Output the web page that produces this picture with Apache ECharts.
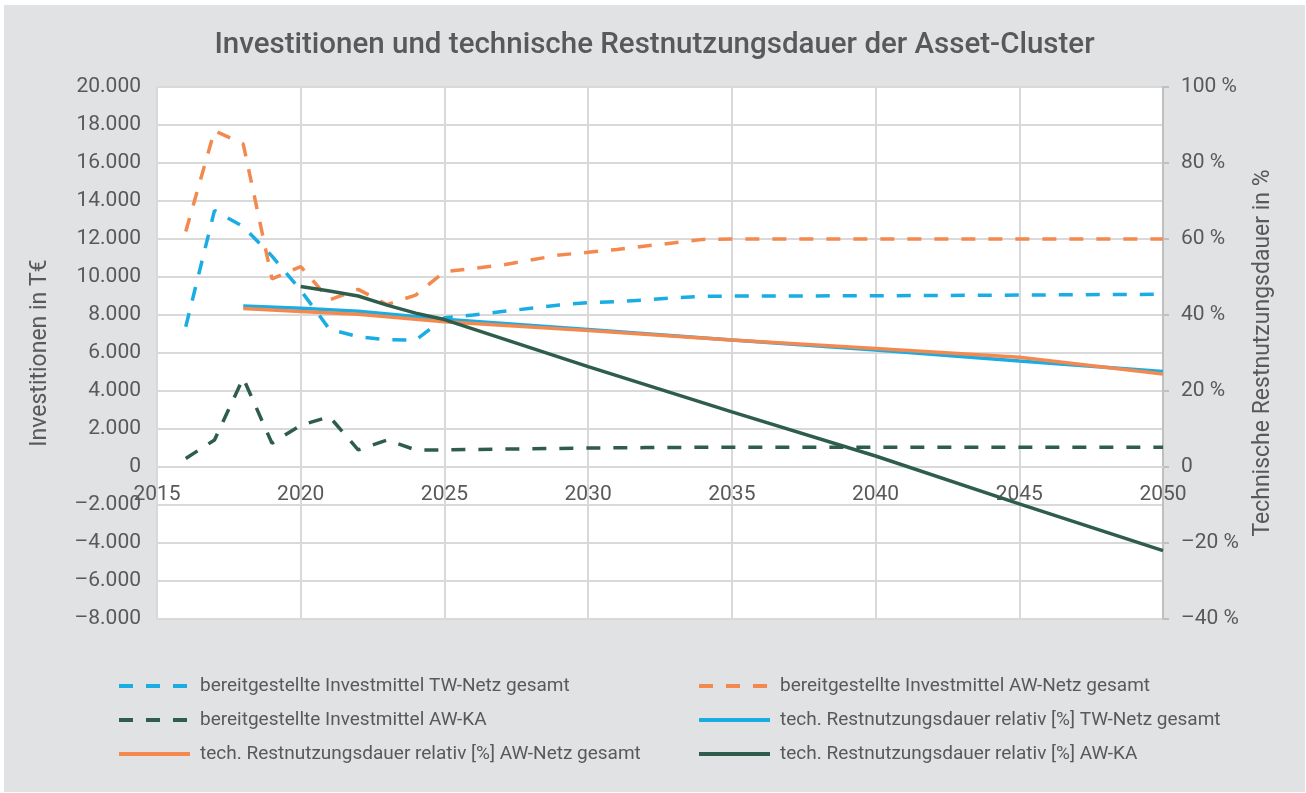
<!DOCTYPE html>
<html>
<head>
<meta charset="utf-8">
<script src="https://cdn.jsdelivr.net/npm/echarts@6/dist/echarts.min.js"></script>
<style>
  html, body { margin: 0; padding: 0; background: #fff; }
  #chart { position: absolute; left: 4px; top: 5px; width: 1301px; height: 787px; background: #e1e2e4; }
</style>
</head>
<body>
<div id="chart"></div>
<script>
// Jahre der Investitionsreihen (ab 2035 nur noch konstant)
const invYears = [2016, 2017, 2018, 2019, 2020, 2021, 2022, 2023, 2024, 2025, 2026, 2027,
  2028, 2029, 2030, 2031, 2032, 2033, 2034, 2035, 2040, 2045, 2050]
// bereitgestellte Investmittel in T€
const invTwNetz = [7380, 13500, 12650, 11100, 9300, 7250, 6860, 6700, 6680, 7850, 8000, 8180,
  8350, 8530, 8650, 8700, 8790, 8910, 8980, 9000, 9010, 9050, 9090]
const invAwNetz = [12400, 17700, 17000, 9900, 10550, 8800, 9350, 8550, 9050, 10280, 10450, 10630,
  10890, 11160, 11300, 11450, 11630, 11800, 11980, 12000, 12000, 12000, 12000]
const invAwKa = [450, 1420, 4680, 1250, 2200, 2650, 900, 1420, 900, 900, 920, 940,
  960, 980, 1000, 1010, 1020, 1030, 1040, 1040, 1040, 1040, 1040]

// tech. Restnutzungsdauer relativ in %
const rndYears = [2018, 2020, 2022, 2025, 2030, 2035, 2040, 2045, 2050]
const rndTwNetz = [42.4, 41.8, 41.0, 38.9, 36.2, 33.4, 30.8, 27.9, 25.1]
const rndAwNetz = [41.7, 40.9, 40.2, 38.2, 35.9, 33.4, 31.2, 28.9, 24.5]
const rndKaYears = [2020, 2021, 2022, 2023, 2024, 2025, 2030, 2035, 2040, 2045, 2050]
const rndAwKa = [47.5, 46.3, 45.0, 42.6, 40.5, 38.8, 26.4, 14.5, 2.9, -9.7, -22.0]

const names = [
  'bereitgestellte Investmittel TW-Netz gesamt',
  'bereitgestellte Investmittel AW-Netz gesamt',
  'bereitgestellte Investmittel AW-KA',
  'tech. Restnutzungsdauer relativ [%] TW-Netz gesamt',
  'tech. Restnutzungsdauer relativ [%] AW-Netz gesamt',
  'tech. Restnutzungsdauer relativ [%] AW-KA'
]

const BLUE = '#1aade4'
const ORANGE = '#f4894f'
const GREEN = '#2f5d4c'
const TEXT = '#595959'
const GRID = '#d9d9d9'
const FONT = 'Roboto'

const pairs = (xs, ys) => xs.map((x, i) => [x, ys[i]])

const fmtInv = (v) => {
  if (v === 0) return '0'
  const s = Math.abs(v).toString().replace(/\B(?=(\d{3})+(?!\d))/g, '.')
  return (v < 0 ? '\u2013' : '') + s
}
const fmtPct = (v) => (v === 0 ? '0' : (v < 0 ? '\u2013' : '') + Math.abs(v) + ' %')

const lineSeries = (name, data, color, dashed, yIndex) => ({
  name,
  type: 'line',
  yAxisIndex: yIndex,
  data,
  symbol: 'none',
  color,
  lineStyle: {
    color,
    width: 3.5,
    type: dashed ? [14, 13] : 'solid'
  }
})

const chart = echarts.init(document.getElementById('chart'))

// zwei Legendenspalten
const legendBase = {
  orient: 'vertical',
  top: 666,
  itemWidth: 71,
  itemHeight: 14,
  itemGap: 14,
  itemStyle: { opacity: 0 },
  lineStyle: { width: 4 },
  textStyle: { color: TEXT, fontSize: 19, fontFamily: FONT, lineHeight: 20, padding: [0, 0, 0, 5] }
}

chart.setOption({
  animation: false,
  textStyle: { fontFamily: FONT },
  title: {
    text: 'Investitionen und technische Restnutzungsdauer der Asset-Cluster',
    left: 'center',
    top: 21,
    padding: [5, 0, 5, 14],
    textStyle: { color: TEXT, fontSize: 29.5, fontWeight: 500, fontFamily: FONT }
  },
  legend: [
    Object.assign({}, legendBase, { left: 108, data: [names[0], names[2], names[4]] }),
    Object.assign({}, legendBase, { left: 688, data: [names[1], names[3], names[5]] })
  ],
  grid: {
    left: 153,
    right: 142,
    top: 82,
    bottom: 173,
    show: true,
    backgroundColor: '#fff',
    borderWidth: 0
  },
  xAxis: {
    type: 'value',
    min: 2015,
    max: 2050,
    interval: 5,
    // Achse liegt auf der Nulllinie der linken Y-Achse
    offset: -152,
    axisLine: { onZero: false, lineStyle: { color: GRID, width: 2 } },
    axisTick: { show: false },
    axisLabel: {
      color: TEXT,
      fontSize: 21,
      margin: 17,
      showMinLabel: true,
      showMaxLabel: true,
      formatter: (v) => String(v)
    },
    splitLine: { show: true, lineStyle: { color: GRID, width: 2 } }
  },
  yAxis: [
    {
      type: 'value',
      min: -8000,
      max: 20000,
      interval: 2000,
      name: 'Investitionen in T€',
      nameLocation: 'middle',
      nameGap: 105,
      nameTextStyle: { color: TEXT, fontSize: 23 },
      axisLine: { show: false },
      axisTick: { show: false },
      axisLabel: { color: TEXT, fontSize: 21, margin: 16, formatter: fmtInv },
      splitLine: { show: true, lineStyle: { color: GRID, width: 2 } }
    },
    {
      type: 'value',
      position: 'right',
      min: -40,
      max: 100,
      interval: 20,
      name: 'Technische Restnutzungsdauer in %',
      nameLocation: 'middle',
      nameGap: 89,
      nameRotate: 90,
      nameTextStyle: { color: TEXT, fontSize: 23 },
      axisLine: { show: true, lineStyle: { color: '#bfbfbf', width: 2 } },
      axisTick: { show: true, length: 6, lineStyle: { color: '#bfbfbf', width: 2 } },
      axisLabel: { color: TEXT, fontSize: 21, margin: 18, formatter: fmtPct },
      splitLine: { show: false }
    }
  ],
  series: [
    lineSeries(names[0], pairs(invYears, invTwNetz), BLUE, true, 0),
    lineSeries(names[1], pairs(invYears, invAwNetz), ORANGE, true, 0),
    lineSeries(names[2], pairs(invYears, invAwKa), GREEN, true, 0),
    lineSeries(names[3], pairs(rndYears, rndTwNetz), BLUE, false, 1),
    lineSeries(names[4], pairs(rndYears, rndAwNetz), ORANGE, false, 1),
    lineSeries(names[5], pairs(rndKaYears, rndAwKa), GREEN, false, 1)
  ]
})
</script>
</body>
</html>
